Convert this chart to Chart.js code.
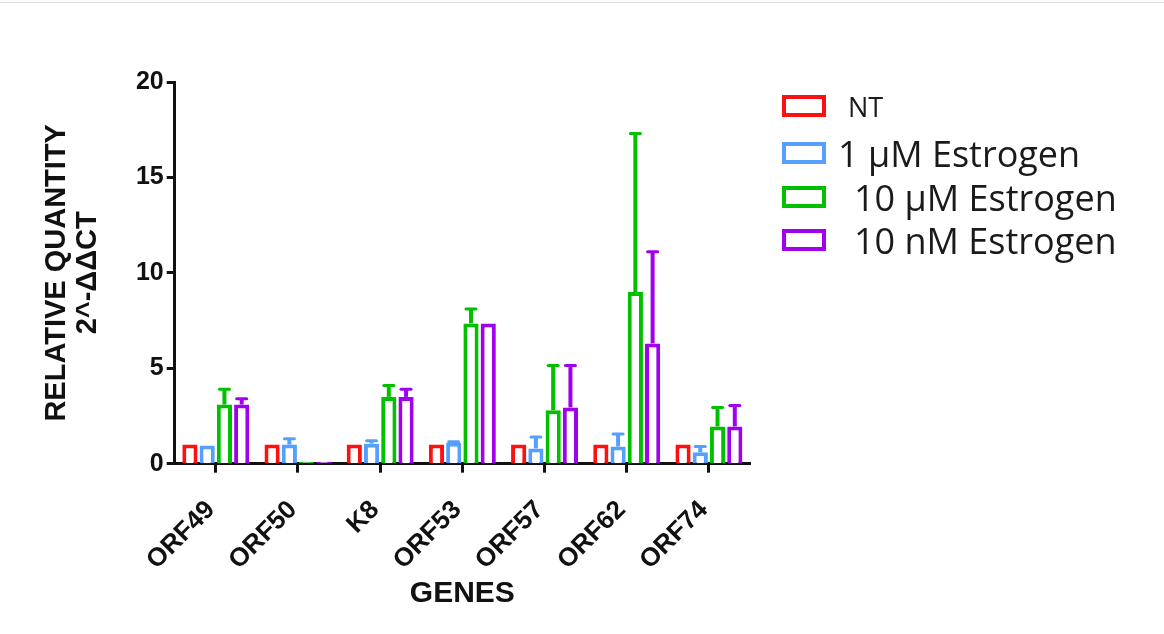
<!DOCTYPE html>
<html>
<head>
<meta charset="utf-8">
<script src="https://cdn.jsdelivr.net/npm/chart.js@4"></script>
<style>
  html, body { margin: 0; padding: 0; background: #fff; }
  #wrap { position: relative; width: 1164px; height: 634px; }
  #topline { position: absolute; left: 0; top: 2px; width: 1164px; height: 1px; background: #e2e2e2; }
  #legend { position: absolute; left: 782px; top: 0; font-family: "Open Sans", sans-serif; color: #1a1a1a; }
  .item { position: absolute; left: 0; height: 40px; display: flex; align-items: center; white-space: pre; }
  .box { width: 36px; height: 14px; border: 4px solid; flex: none; }
</style>
</head>
<body>
<div id="wrap">
  <div id="topline"></div>
  <canvas id="graf" width="1164" height="634"></canvas>
  <div id="legend"></div>
</div>
<script>
const genes = ['ORF49', 'ORF50', 'K8', 'ORF53', 'ORF57', 'ORF62', 'ORF74'];

// serier: medelvärde och övre felstapel (värde + SD)
const seriesNames = ['NT', '1 µM Estrogen', ' 10 µM Estrogen', ' 10 nM Estrogen'];
const seriesColors = ['#ff1010', '#55a0ff', '#00c000', '#a000ee'];

const nt       = [1.0, 1.0, 1.0, 1.0, 1.0, 1.0, 1.0];
const ntErr    = [1.0, 1.0, 1.0, 1.0, 1.0, 1.0, 1.0];
const e1uM     = [0.95, 1.0, 1.05, 1.1, 0.8, 0.9, 0.6];
const e1uMErr  = [0.95, 1.3, 1.2, 1.15, 1.4, 1.55, 0.9];
const e10uM    = [3.1, 0.1, 3.5, 7.35, 2.8, 9.0, 1.95];
const e10uMErr = [3.9, 0.1, 4.1, 8.1, 5.15, 17.3, 2.95];
const e10nM    = [3.1, 0.1, 3.5, 7.35, 2.95, 6.3, 1.95];
const e10nMErr = [3.4, 0.1, 3.9, 7.35, 5.15, 11.1, 3.05];

const yTicks = [0, 5, 10, 15, 20];

const values = [nt, e1uM, e10uM, e10nM];
const errors = [ntErr, e1uMErr, e10uMErr, e10nMErr];

// Felstaplar uppåt med tvärstreck
const errorBars = {
  id: 'errorBars',
  afterDatasetsDraw(chart) {
    const ctx = chart.ctx;
    const y = chart.scales.y;
    chart.data.datasets.forEach((ds, i) => {
      const meta = chart.getDatasetMeta(i);
      meta.data.forEach((bar, j) => {
        const top = ds.errTop[j];
        if (top <= ds.data[j] + 0.02) return;
        const yTop = y.getPixelForValue(top);
        ctx.save();
        ctx.strokeStyle = ds.borderColor;
        ctx.lineWidth = 4;
        ctx.beginPath();
        ctx.moveTo(bar.x, bar.y);
        ctx.lineTo(bar.x, yTop);
        ctx.stroke();
        ctx.lineWidth = 3;
        ctx.lineCap = 'round';
        ctx.beginPath();
        ctx.moveTo(bar.x - 5, yTop);
        ctx.lineTo(bar.x + 5, yTop);
        ctx.stroke();
        ctx.restore();
      });
    });
  }
};

const bold = { family: '"Liberation Sans", Arial, sans-serif', weight: 'bold' };

new Chart(document.querySelector('#graf'), {
  type: 'bar',
  data: {
    labels: genes,
    datasets: values.map((v, i) => ({
      label: seriesNames[i],
      data: v,
      errTop: errors[i],
      borderColor: seriesColors[i],
      backgroundColor: '#ffffff',
      borderWidth: 4,
      categoryPercentage: 0.84,
      barPercentage: 0.88
    }))
  },
  options: {
    responsive: false,
    animation: false,
    layout: { padding: { left: 38, right: 414, top: 82, bottom: 22 } },
    plugins: { legend: { display: false }, tooltip: { enabled: false } },
    scales: {
      x: {
        offset: true,
        grid: { offset: false, drawOnChartArea: false, tickLength: 9, tickWidth: 3, tickColor: '#111' },
        border: { color: '#111', width: 3 },
        ticks: { color: '#111', font: { ...bold, size: 26 }, minRotation: 45, maxRotation: 45,
                 padding: 22, labelOffset: -5 },
        title: { display: true, text: 'GENES', color: '#111', font: { ...bold, size: 30 },
                 padding: { top: -22, bottom: 0 } }
      },
      y: {
        min: 0, max: 20,
        afterBuildTicks: axis => { axis.ticks = yTicks.map(v => ({ value: v })); },
        grid: { drawOnChartArea: false, tickLength: 8, tickWidth: 3, tickColor: '#111' },
        border: { color: '#111', width: 3 },
        ticks: { color: '#111', font: { ...bold, size: 25 }, padding: 3 },
        title: { display: true, text: ['RELATIVE QUANTITY', '2^-ΔΔCT'], color: '#111',
                 font: { ...bold, size: 29, lineHeight: 1.05 }, padding: { top: 4, bottom: 30 } }
      }
    }
  },
  plugins: [errorBars]
});

// Förklaring till höger
const legendPos = [
  { center: 106, size: 27, gap: 22, family: '"Liberation Sans", Arial, sans-serif' },
  { center: 153, size: 36, gap: 12 },
  { center: 197, size: 36, gap: 28 },
  { center: 240, size: 36, gap: 28 }
];
const legend = document.querySelector('#legend');
seriesNames.forEach((name, i) => {
  const p = legendPos[i];
  const el = document.createElement('div');
  el.className = 'item';
  el.style.top = (p.center - 20) + 'px';
  el.innerHTML = '<span class="box" style="border-color:' + seriesColors[i] + '"></span>' +
    '<span style="font-size:' + p.size + 'px;margin-left:' + p.gap + 'px;' +
    (p.family ? 'font-family:' + p.family + ';' : '') + '">' + name.trim() + '</span>';
  legend.appendChild(el);
});
</script>
</body>
</html>
